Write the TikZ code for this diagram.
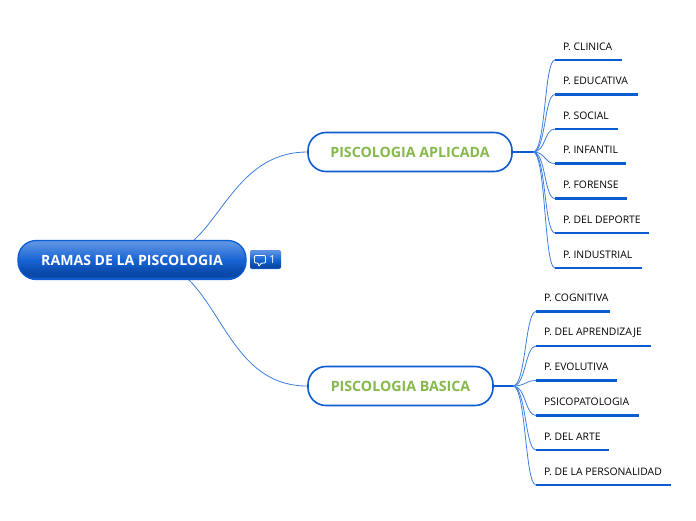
\documentclass[tikz,border=0pt]{standalone}
\usepackage{fontspec}
\setmainfont{Open Sans}
\usetikzlibrary{calc}
\definecolor{mblue}{HTML}{0B5BD3}
\definecolor{lblue}{HTML}{5E94E2}
\definecolor{mgreen}{HTML}{86B84B}
\pgfdeclareverticalshading{glossy}{100bp}{
  color(0bp)=(mblue!90!white); color(25bp)=(mblue!90!white); color(29bp)=(mblue!80!black);
  color(34bp)=(mblue!80!black); color(50bp)=(mblue!95!white); color(70bp)=(lblue!90!mblue);
  color(75bp)=(lblue); color(100bp)=(lblue)}
\tikzset{
  mainbox/.style={draw=mblue,line width=1.2pt,rounded corners=18pt,minimum width=228pt,minimum height=39pt,inner sep=0pt,
    shading=glossy,text=white,font=\bfseries\fontsize{14.1}{16}\selectfont},
  subbox/.style={draw=mblue,fill=white,line width=1.6pt,rounded corners=18pt,minimum height=39pt,inner sep=0pt,
    text=mgreen,font=\bfseries\fontsize{14.2}{16}\selectfont},
  notebox/.style={draw=none,rounded corners=2pt,shading=glossy,minimum width=31pt,minimum height=19pt,inner sep=0pt},
  notenum/.style={inner sep=0pt,text=white,font=\fontsize{11}{13}\selectfont},
  leaftext/.style={anchor=west,inner sep=0pt,text=black,font=\fontsize{10.4}{12}\selectfont},
  leafline/.style={draw=mblue,line width=2.4pt},
  branch/.style={draw=lblue!60!mblue,line width=.8pt},
  stem/.style={draw=mblue,line width=2pt},
}
\newcommand{\leaf}[6]{% name, hub, text x, y, end x, text
  \node[leaftext] (#1) at (#3,#4-13.5) {#6};
  \coordinate (#1a) at (#3-8,#4);
  \coordinate (#1b) at (#5,#4);
  \draw[leafline] (#1a) -- (#1b);
  \draw[branch] (#2) .. controls ($(#2)+(13,0)$) and ($(#1a)+(-11,0)$) .. (#1a);
}
\begin{document}
\begin{tikzpicture}[x=1pt,y=-1pt]
\useasboundingbox (0,0) rectangle (696,520);
\node[mainbox] (root) at (132,260) {RAMAS DE LA PISCOLOGIA};
\node[notebox] (note) at (265.5,259.5) {};
\node[notenum] (notenum) at (272.5,260) {1};
\draw[white,line width=.9pt,rounded corners=1pt] (254.5,255.5) -- (265.5,255.5) -- (265.5,263) -- (261.5,263) -- (258.5,266.5) -- (258.5,263) -- (254.5,263) -- cycle;
\node[subbox,minimum width=204pt] (apl) at (410,152) {PISCOLOGIA APLICADA};
\node[subbox,minimum width=185pt] (bas) at (400.5,386) {PISCOLOGIA BASICA};
\coordinate (r1) at (194,240);
\coordinate (r2) at (189,280);
\draw[branch] (r1) .. controls (225,212) and (245,152) .. (apl.west);
\draw[branch] (r2) .. controls (225,316) and (240,386) .. (bas.west);
\coordinate (hubA) at (533,152);
\coordinate (hubB) at (513,386);
\draw[stem] (apl.east) -- (hubA);
\draw[stem] (bas.east) -- (hubB);
\leaf{a1}{hubA}{563}{60}{622}{P. CLINICA}
\leaf{a2}{hubA}{563}{94.5}{638}{P. EDUCATIVA}
\leaf{a3}{hubA}{563}{129}{618}{P. SOCIAL}
\leaf{a4}{hubA}{563}{163.5}{626}{P. INFANTIL}
\leaf{a5}{hubA}{563}{198.5}{627}{P. FORENSE}
\leaf{a6}{hubA}{563}{233}{649}{P. DEL DEPORTE}
\leaf{a7}{hubA}{563}{268}{642}{P. INDUSTRIAL}
\leaf{b1}{hubB}{544}{311.5}{610}{P. COGNITIVA}
\leaf{b2}{hubB}{544}{346}{651}{P. DEL APRENDIZAJE}
\leaf{b3}{hubB}{544}{380.5}{617}{P. EVOLUTIVA}
\leaf{b4}{hubB}{544}{415.5}{639}{PSICOPATOLOGIA}
\leaf{b5}{hubB}{544}{450}{609}{P. DEL ARTE}
\leaf{b6}{hubB}{544}{485}{671}{P. DE LA PERSONALIDAD}
\end{tikzpicture}
\end{document}
